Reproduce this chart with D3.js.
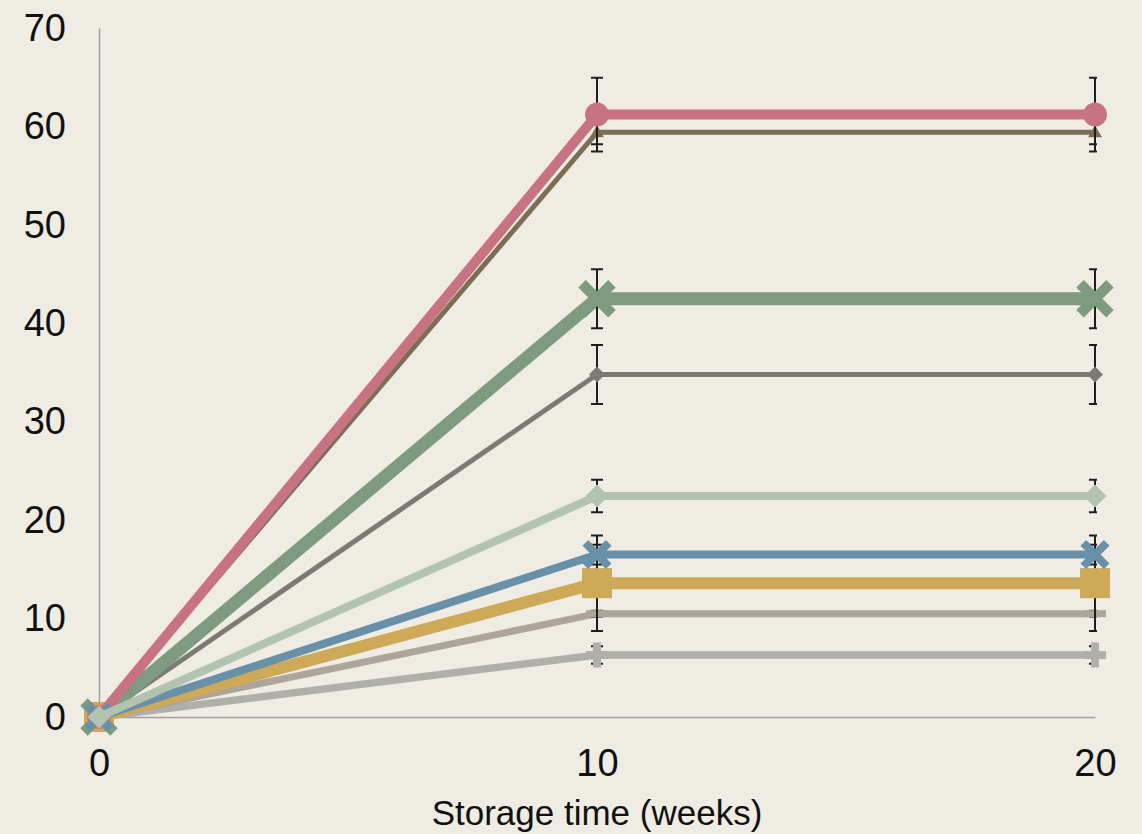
<!DOCTYPE html>
<html>
<head>
<meta charset="utf-8">
<script src="https://cdn.jsdelivr.net/npm/d3@7"></script>
<style>
  html, body { margin: 0; padding: 0; background: #EFECE4; }
  svg { display: block; }
</style>
</head>
<body>
<svg id="chart" width="1142" height="834"></svg>
<script>
// ---- data ----
const weeks = [0, 10, 20];
const xTicks = [0, 10, 20];
const yTicks = [0, 10, 20, 30, 40, 50, 60, 70];
const xTitle = "Storage time (weeks)";

const lightGrayValues  = [0, 6.3, 6.3];
const lightGrayErrors  = [0, 0.9, 0.9];
const taupeValues      = [0, 10.5, 10.5];
const taupeErrors      = [0, 0.3, 0.3];
const goldValues       = [0, 13.6, 13.6];
const goldErrors       = [0, 4.85, 4.85];
const grayValues       = [0, 34.8, 34.8];
const grayErrors       = [0, 3.0, 3.0];
const brownValues      = [0, 59.4, 59.4];
const brownErrors      = [0, 1.2, 1.2];
const greenValues      = [0, 42.5, 42.5];
const greenErrors      = [0, 3.0, 3.0];
const pinkValues       = [0, 61.2, 61.2];
const pinkErrors       = [0, 3.75, 3.75];
const blueValues       = [0, 16.5, 16.5];
const blueErrors       = [0, 1.0, 1.0];
const lightGreenValues = [0, 22.45, 22.45];
const lightGreenErrors = [0, 1.65, 1.65];

// ---- styles (drawing order bottom -> top) ----
const series = [
  { values: lightGrayValues,  errors: lightGrayErrors,  color: "#B0B0AB", width: 7.5, marker: "plus" },
  { values: taupeValues,      errors: taupeErrors,      color: "#ADA59B", width: 7,   marker: "dash" },
  { values: goldValues,       errors: goldErrors,       color: "#CDA958", width: 12,  marker: "square" },
  { values: grayValues,       errors: grayErrors,       color: "#7B7B73", width: 5,   marker: "diamondSmall" },
  { values: brownValues,      errors: brownErrors,      color: "#7D6D55", width: 5,   marker: "triangle" },
  { values: greenValues,      errors: greenErrors,      color: "#7E9B7F", width: 13,  marker: "xBig" },
  { values: pinkValues,       errors: pinkErrors,       color: "#C87382", width: 10,  marker: "circle" },
  { values: blueValues,       errors: blueErrors,       color: "#6890A8", width: 8,   marker: "xSmall" },
  { values: lightGreenValues, errors: lightGreenErrors, color: "#B2C4B0", width: 8,   marker: "diamondBig" }
];

const svg = d3.select("#chart");
const W = 1142, H = 834;
svg.append("rect").attr("width", W).attr("height", H).attr("fill", "#EFECE4");

const x = d3.scaleLinear().domain([0, 20]).range([99, 1095]);
const y = d3.scaleLinear().domain([0, 70]).range([717, 28]);

const font = "'Liberation Sans', Arial, sans-serif";

// axes
const yAxis = svg.append("g").attr("transform", `translate(${x(0)},0)`)
  .call(d3.axisLeft(y).tickValues(yTicks).tickSize(0).tickSizeOuter(0).tickPadding(33));
const xAxis = svg.append("g").attr("transform", `translate(0,${y(0)})`)
  .call(d3.axisBottom(x).tickValues(xTicks).tickSize(0).tickSizeOuter(0).tickPadding(32));
[yAxis, xAxis].forEach(g => {
  g.select(".domain").attr("stroke", "#A0A0A0").attr("stroke-width", 1.5);
  g.selectAll("text").attr("font-family", font).attr("font-size", 38).attr("fill", "#111");
});

svg.append("text")
  .attr("x", x(10)).attr("y", 825)
  .attr("text-anchor", "middle")
  .attr("font-family", font).attr("font-size", 35).attr("fill", "#111")
  .text(xTitle);

// clip for error bars (plot area)
svg.append("clipPath").attr("id", "plotClip")
  .append("rect").attr("x", 0).attr("y", 0).attr("width", 1097).attr("height", H);

const line = d3.line().x((d, i) => x(weeks[i])).y(d => y(d));

function drawMarker(g, type, cx, cy, color) {
  switch (type) {
    case "circle":
      g.append("circle").attr("cx", cx).attr("cy", cy).attr("r", 12).attr("fill", color); break;
    case "square":
      g.append("rect").attr("x", cx - 15).attr("y", cy - 15).attr("width", 30).attr("height", 30).attr("fill", color); break;
    case "triangle":
      g.append("path").attr("d", `M${cx},${cy - 7} L${cx + 7},${cy + 5} L${cx - 7},${cy + 5} Z`).attr("fill", color); break;
    case "diamondSmall":
      g.append("path").attr("d", `M${cx},${cy - 8} L${cx + 8},${cy} L${cx},${cy + 8} L${cx - 8},${cy} Z`).attr("fill", color); break;
    case "diamondBig":
      g.append("path").attr("d", `M${cx},${cy - 11.5} L${cx + 11.5},${cy} L${cx},${cy + 11.5} L${cx - 11.5},${cy} Z`).attr("fill", color); break;
    case "xBig":
    case "xSmall": {
      const a = type === "xBig" ? 15 : 11.7, t = type === "xBig" ? 10.5 : 8;
      g.append("path").attr("d", `M${cx - a},${cy - a} L${cx + a},${cy + a} M${cx - a},${cy + a} L${cx + a},${cy - a}`)
        .attr("stroke", color).attr("stroke-width", t).attr("fill", "none"); break;
    }
    case "dash":
      g.append("rect").attr("x", cx - 11).attr("y", cy - 3.5).attr("width", 22).attr("height", 7).attr("fill", color); break;
    case "plus":
      g.append("rect").attr("x", cx - 4).attr("y", cy - 12.5).attr("width", 8).attr("height", 25).attr("fill", color);
      g.append("rect").attr("x", cx - 11).attr("y", cy - 4).attr("width", 22).attr("height", 8).attr("fill", color); break;
  }
}

series.forEach(s => {
  const g = svg.append("g");
  g.append("path").datum(s.values).attr("d", line)
    .attr("fill", "none").attr("stroke", s.color).attr("stroke-width", s.width)
    .attr("stroke-linejoin", "round");
  const eg = g.append("g").attr("clip-path", "url(#plotClip)");
  s.values.forEach((v, i) => {
    const e = s.errors[i];
    if (!e) return;
    const cx = x(weeks[i]), y1 = y(v + e), y2 = y(v - e);
    eg.append("path")
      .attr("d", `M${cx},${y1} L${cx},${y2} M${cx - 6},${y1} L${cx + 6},${y1} M${cx - 6},${y2} L${cx + 6},${y2}`)
      .attr("stroke", "#1E1E1E").attr("stroke-width", 2).attr("fill", "none");
  });
  s.values.forEach((v, i) => drawMarker(g, s.marker, x(weeks[i]), y(v), s.color));
});
</script>
</body>
</html>
